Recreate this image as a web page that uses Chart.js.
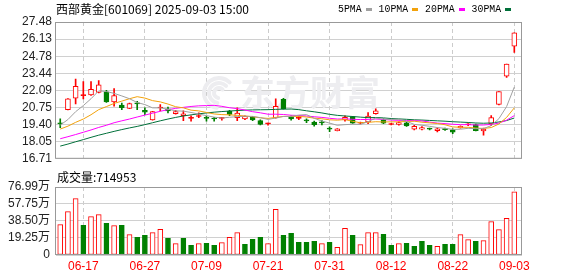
<!DOCTYPE html>
<html>
<head>
<meta charset="utf-8">
<title>西部黄金 日K</title>
<script src="https://cdn.jsdelivr.net/npm/chart.js@4.4.1/dist/chart.umd.min.js"></script>
<style>
    html, body { margin: 0; padding: 0; background: #fff; }
    #wrap { position: relative; width: 578px; height: 276px; overflow: hidden; }
    canvas { position: absolute; left: 0; }
    #priceChart { top: 0; }
    #volChart { top: 170px; }
</style>
</head>
<body>
<div id="wrap">
    <canvas id="priceChart" width="578" height="170"></canvas>
    <canvas id="volChart" width="578" height="106"></canvas>
</div>
<script>
// Trading sessions shown on the chart
const dates = [
    '06-12', '06-13', '06-16', '06-17', '06-18', '06-19', '06-20', '06-23', '06-24', '06-25',
    '06-26', '06-27', '06-30', '07-01', '07-02', '07-03', '07-04', '07-07', '07-08', '07-09',
    '07-10', '07-11', '07-14', '07-15', '07-16', '07-17', '07-18', '07-21', '07-22', '07-23',
    '07-24', '07-25', '07-28', '07-29', '07-30', '07-31', '08-01', '08-04', '08-05', '08-06',
    '08-07', '08-08', '08-11', '08-12', '08-13', '08-14', '08-15', '08-18', '08-19', '08-20',
    '08-21', '08-22', '08-25', '08-26', '08-27', '08-28', '08-29', '09-01', '09-02', '09-03'
];
const tickDates = ['06-17', '06-27', '07-09', '07-21', '07-31', '08-12', '08-22', '09-03'];

// OHLC
const opens = [
    19.50, 20.58, 21.48, 21.68, 21.73, 21.93, 21.98, 21.18, 20.93, 20.68,
    21.05, 20.53, 19.78, 20.71, 20.65, 20.27, 20.10, 19.89, 20.04, 19.91,
    19.86, 19.89, 20.46, 19.95, 19.85, 19.97, 19.72, 19.46, 19.93, 21.40,
    20.03, 19.89, 19.73, 19.60, 19.56, 19.06, 18.92, 19.78, 20.03, 19.51,
    19.62, 20.27, 19.78, 19.41, 19.42, 19.55, 19.05, 19.05, 19.06, 18.92,
    19.03, 18.99, 19.15, 19.39, 19.40, 18.90, 19.45, 21.00, 23.21, 25.58
];
const highs = [
    19.85, 21.45, 22.98, 22.79, 22.79, 22.86, 22.11, 22.23, 21.10, 21.10,
    21.23, 20.73, 20.45, 20.98, 20.78, 20.53, 20.48, 20.10, 20.33, 20.05,
    19.97, 19.97, 20.53, 20.73, 20.10, 20.05, 19.78, 19.52, 21.43, 21.48,
    20.10, 20.03, 19.85, 19.67, 19.72, 19.22, 19.08, 20.10, 20.05, 19.60,
    20.35, 20.65, 19.85, 19.50, 19.62, 19.58, 19.35, 19.25, 19.12, 19.15,
    19.12, 19.07, 19.30, 19.48, 19.45, 19.12, 20.12, 22.00, 24.17, 26.63
];
const lows = [
    19.17, 20.55, 21.03, 21.43, 21.70, 21.90, 21.15, 20.85, 20.58, 20.65,
    20.58, 20.18, 19.75, 20.48, 20.33, 20.23, 19.72, 19.67, 19.95, 19.67,
    19.67, 19.75, 20.10, 19.72, 19.80, 19.72, 19.37, 19.35, 19.90, 20.62,
    19.75, 19.80, 19.55, 19.27, 19.37, 18.84, 18.90, 19.67, 19.50, 19.45,
    19.48, 20.23, 19.48, 19.38, 19.35, 19.25, 18.98, 18.98, 18.98, 18.82,
    18.95, 18.69, 19.12, 19.32, 18.90, 18.57, 19.32, 20.95, 23.11, 25.09
];
const closes = [
    19.47, 21.43, 22.41, 21.72, 22.18, 22.54, 21.18, 21.68, 20.73, 21.06,
    21.03, 20.38, 20.42, 20.73, 20.48, 20.42, 20.25, 19.91, 20.07, 19.89,
    19.84, 19.91, 20.20, 20.30, 20.05, 19.78, 19.42, 19.48, 20.85, 20.65,
    19.85, 19.91, 19.70, 19.40, 19.54, 19.04, 19.06, 19.97, 19.52, 19.53,
    20.08, 20.48, 19.52, 19.43, 19.57, 19.30, 19.27, 19.17, 19.04, 19.07,
    19.01, 18.80, 19.27, 19.41, 18.92, 19.05, 19.95, 22.00, 24.17, 26.63
];

// Moving averages as drawn
const ma5 = [
    19.36, 19.80, 20.42, 20.90, 21.44, 22.06, 22.01, 21.86, 21.66, 21.44,
    21.14, 20.98, 20.72, 20.72, 20.61, 20.49, 20.46, 20.36, 20.23, 20.11,
    19.99, 19.92, 19.98, 20.03, 20.06, 20.05, 19.95, 19.81, 19.92, 20.04,
    20.05, 20.15, 20.19, 19.90, 19.68, 19.52, 19.35, 19.40, 19.43, 19.42,
    19.63, 19.92, 19.83, 19.81, 19.82, 19.66, 19.42, 19.35, 19.27, 19.17,
    19.11, 19.02, 19.04, 19.11, 19.08, 19.09, 19.32, 19.87, 20.82, 22.36
];
const ma10 = [
    19.05, 19.28, 19.58, 19.84, 20.18, 20.58, 20.82, 21.07, 21.25, 21.44,
    21.60, 21.49, 21.29, 21.19, 21.02, 20.81, 20.72, 20.54, 20.48, 20.36,
    20.24, 20.19, 20.17, 20.13, 20.08, 20.02, 19.94, 19.89, 19.97, 20.05,
    20.05, 20.05, 20.00, 19.91, 19.86, 19.78, 19.75, 19.80, 19.66, 19.55,
    19.58, 19.63, 19.61, 19.62, 19.62, 19.65, 19.67, 19.59, 19.54, 19.49,
    19.39, 19.22, 19.19, 19.19, 19.13, 19.10, 19.17, 19.45, 19.97, 20.72
];
const ma20 = [
    18.29, 18.45, 18.62, 18.80, 18.98, 19.18, 19.35, 19.55, 19.70, 19.84,
    20.00, 20.15, 20.30, 20.45, 20.58, 20.68, 20.76, 20.83, 20.88, 20.90,
    20.92, 20.84, 20.73, 20.66, 20.55, 20.42, 20.33, 20.22, 20.22, 20.20,
    20.14, 20.12, 20.08, 20.02, 19.97, 19.90, 19.84, 19.85, 19.82, 19.80,
    19.81, 19.84, 19.81, 19.76, 19.74, 19.72, 19.71, 19.69, 19.60, 19.52,
    19.48, 19.43, 19.40, 19.40, 19.37, 19.37, 19.42, 19.52, 19.75, 20.11
];
const ma30 = [
    17.71, 17.87, 18.05, 18.22, 18.40, 18.57, 18.72, 18.87, 19.01, 19.14,
    19.26, 19.40, 19.55, 19.70, 19.84, 19.97, 20.08, 20.17, 20.25, 20.32,
    20.38, 20.43, 20.47, 20.51, 20.54, 20.56, 20.57, 20.58, 20.60, 20.62,
    20.63, 20.58, 20.49, 20.41, 20.32, 20.21, 20.13, 20.08, 20.04, 19.99,
    19.95, 19.96, 19.93, 19.88, 19.85, 19.82, 19.78, 19.76, 19.73, 19.70,
    19.67, 19.63, 19.60, 19.57, 19.53, 19.51, 19.53, 19.61, 19.72, 19.92
];
const maNames = ['5PMA', '10PMA', '20PMA', '30PMA'];
const maColors = ['#a0a0a0', '#f2a20c', '#ff00ff', '#00703a'];

// Volume in 万 shares, 1 = red day, 0 = green day
const volumes = [
    34.4, 49.1, 63.8, 33.6, 43.5, 45.7, 35.9, 33.3, 33.6, 23.1,
    20.0, 22.3, 25.4, 29.1, 18.9, 12.9, 18.9, 11.0, 12.9, 13.2,
    11.0, 14.0, 20.0, 25.4, 12.1, 17.8, 20.0, 12.9, 51.7, 22.3,
    24.6, 14.4, 14.4, 15.5, 12.9, 14.4, 8.7, 30.2, 22.3, 11.8,
    25.4, 25.4, 23.4, 11.0, 12.9, 13.2, 9.8, 15.5, 11.0, 9.8,
    12.1, 12.1, 23.1, 17.4, 15.5, 16.3, 37.8, 28.8, 41.5, 71.5
];
const volUp = [
    1, 1, 1, 0, 1, 1, 0, 1, 0, 1,
    0, 0, 1, 1, 0, 1, 0, 0, 1, 0,
    0, 1, 1, 1, 0, 0, 0, 1, 1, 0,
    0, 0, 0, 0, 1, 0, 1, 1, 0, 1,
    1, 1, 0, 0, 1, 0, 0, 0, 0, 1,
    0, 0, 1, 1, 0, 1, 1, 1, 1, 1
];

const priceTicks = [16.71, 18.05, 19.40, 20.75, 22.09, 23.44, 24.78, 26.13, 27.48];
const volTicks = [0, 19.25, 38.50, 57.75, 76.99];

const titleText = '西部黄金[601069] 2025-09-03 15:00';
const volText = '成交量:714953';

const RED = '#ff0000';
const GREEN = '#008000';
const CJK = '"Noto Sans CJK SC", sans-serif';
const TICK_FONT = '12px "Liberation Sans", Arial, "Noto Sans CJK SC", sans-serif';

Chart.defaults.font.family = '"Liberation Sans", Arial, "Noto Sans CJK SC", sans-serif';
Chart.defaults.font.size = 12;
Chart.defaults.color = '#222';

function isUp(i) {
    return closes[i] >= opens[i];
}

function candleColor(i) {
    return isUp(i) ? RED : GREEN;
}

// hollow red body unless it is a doji
function bodyFill(i) {
    if (!isUp(i)) return GREEN;
    return closes[i] - opens[i] > 0.1 ? '#fff' : RED;
}

function volLabel(v) {
    return v === 0 ? '0' : v.toFixed(2) + '万';
}

function xAxis(showLabels) {
    return {
        type: 'linear',
        min: -0.55,
        max: 60,
        offset: false,
        grid: { color: '#cccccc', drawTicks: false, offset: false },
        border: { display: false, dash: [4, 3] },
        afterBuildTicks: s => { s.ticks = tickDates.map(d => ({ value: dates.indexOf(d) })); },
        afterFit: s => { s.height = showLabels ? 21 : 0; },
        ticks: {
            display: showLabels,
            autoSkip: false,
            maxRotation: 0,
            color: RED,
            padding: 4,
            callback: v => dates[v]
        }
    };
}

function yAxis(min, max, tickValues, showLabels, fmt) {
    return {
        min: min,
        max: max,
        grid: { color: '#d0d0d0', drawTicks: false },
        border: { display: false },
        afterBuildTicks: s => { s.ticks = tickValues.map(v => ({ value: v })); },
        afterFit: s => { s.width = 56; },
        ticks: { display: showLabels, padding: 4, color: '#222', autoSkip: false, callback: fmt }
    };
}

function drawFrame(chart) {
    const a = chart.chartArea;
    const ctx = chart.ctx;
    ctx.save();
    ctx.strokeStyle = '#999';
    ctx.lineWidth = 1;
    ctx.strokeRect(a.left - 0.5, a.top + 0.5, a.right - a.left, a.bottom - a.top - 1);
    ctx.restore();
}

// faint site mark behind the candles
function drawWatermark(ctx) {
    ctx.save();
    ctx.fillStyle = '#ededf0';
    ctx.strokeStyle = '#ededf0';
    ctx.lineWidth = 4;
    ctx.lineCap = 'round';
    for (let k = 0; k < 3; k++) {
        ctx.beginPath();
        ctx.arc(219, 93, 15 - k * 5, Math.PI * 0.55, Math.PI * 1.75);
        ctx.stroke();
    }
    ctx.font = 'bold 35px ' + CJK;
    ctx.textBaseline = 'middle';
    ctx.fillText('东方财富', 240, 93);
    ctx.restore();
}

// Title, MA legend, watermark and frame of the price panel
const pricePainter = {
    id: 'pricePainter',
    beforeDatasetsDraw(chart) {
        drawWatermark(chart.ctx);
    },
    afterDraw(chart) {
        const ctx = chart.ctx;
        drawFrame(chart);
        ctx.save();
        ctx.fillStyle = '#000';
        ctx.textBaseline = 'middle';
        ctx.font = '12px ' + CJK;
        ctx.fillText(titleText, 56, 9);

        ctx.font = '11px "Liberation Mono", monospace';
        let x = 338;
        maNames.forEach((name, i) => {
            const w = name.length * 5.9;
            ctx.fillStyle = '#000';
            ctx.fillText(name, x, 9.5, w);
            ctx.fillStyle = maColors[i];
            ctx.fillRect(Math.round(x + w + 4), 8, 6, 3);
            x += w + 4 + 6 + 7;
        });
        ctx.restore();
    }
};

// Header text and y labels of the volume panel (labels placed by the y scale)
const volPainter = {
    id: 'volPainter',
    afterDraw(chart) {
        const ctx = chart.ctx;
        const ys = chart.scales.y;
        drawFrame(chart);
        ctx.save();
        ctx.fillStyle = '#000';
        ctx.textBaseline = 'middle';
        ctx.font = '12px ' + CJK;
        ctx.fillText(volText, 57, 7);

        ctx.fillStyle = '#222';
        ctx.font = TICK_FONT;
        ctx.textAlign = 'right';
        volTicks.forEach(v => {
            ctx.fillText(volLabel(v), 50, ys.getPixelForValue(v));
        });
        ctx.restore();
    }
};

function maDataset(values, i) {
    return {
        type: 'line',
        label: maNames[i],
        data: values.map((v, k) => ({ x: k, y: v })),
        borderColor: maColors[i],
        borderWidth: 1,
        pointRadius: 0,
        tension: 0,
        order: 0
    };
}

// Price panel: candles from floating bars plus MA lines
const priceChart = new Chart(document.getElementById('priceChart'), {
    type: 'bar',
    data: {
        datasets: [
            maDataset(ma5, 0),
            maDataset(ma10, 1),
            maDataset(ma20, 2),
            maDataset(ma30, 3),
            {
                label: 'body',
                data: opens.map((o, i) => ({ x: i, y: [o, closes[i]] })),
                barThickness: 5,
                minBarLength: 1,
                borderWidth: 1,
                borderSkipped: false,
                grouped: false,
                backgroundColor: ctx => bodyFill(ctx.dataIndex),
                borderColor: ctx => candleColor(ctx.dataIndex),
                order: 1
            },
            {
                label: 'wick',
                data: lows.map((l, i) => ({ x: i, y: [l, highs[i]] })),
                barThickness: 1,
                borderWidth: 0,
                grouped: false,
                backgroundColor: ctx => candleColor(ctx.dataIndex),
                order: 2
            }
        ]
    },
    options: {
        responsive: false,
        animation: false,
        events: [],
        layout: { padding: { left: 0, right: 56, top: 22, bottom: 5 } },
        plugins: { legend: { display: false }, tooltip: { enabled: false } },
        scales: {
            x: xAxis(false),
            y: yAxis(16.71, 27.48, priceTicks, true, v => v.toFixed(2))
        }
    },
    plugins: [pricePainter]
});

// Volume panel
const volChart = new Chart(document.getElementById('volChart'), {
    type: 'bar',
    data: {
        datasets: [{
            label: 'volume',
            data: volumes.map((v, i) => ({ x: i, y: v })),
            barThickness: 5,
            borderWidth: 1,
            borderSkipped: false,
            grouped: false,
            backgroundColor: ctx => volUp[ctx.dataIndex] ? '#fff' : GREEN,
            borderColor: ctx => volUp[ctx.dataIndex] ? RED : GREEN
        }]
    },
    options: {
        responsive: false,
        animation: false,
        events: [],
        layout: { padding: { left: 0, right: 56, top: 17, bottom: 0 } },
        plugins: { legend: { display: false }, tooltip: { enabled: false } },
        scales: {
            x: xAxis(true),
            y: yAxis(0, 76.99, volTicks, false, volLabel)
        }
    },
    plugins: [volPainter]
});
</script>
</body>
</html>
